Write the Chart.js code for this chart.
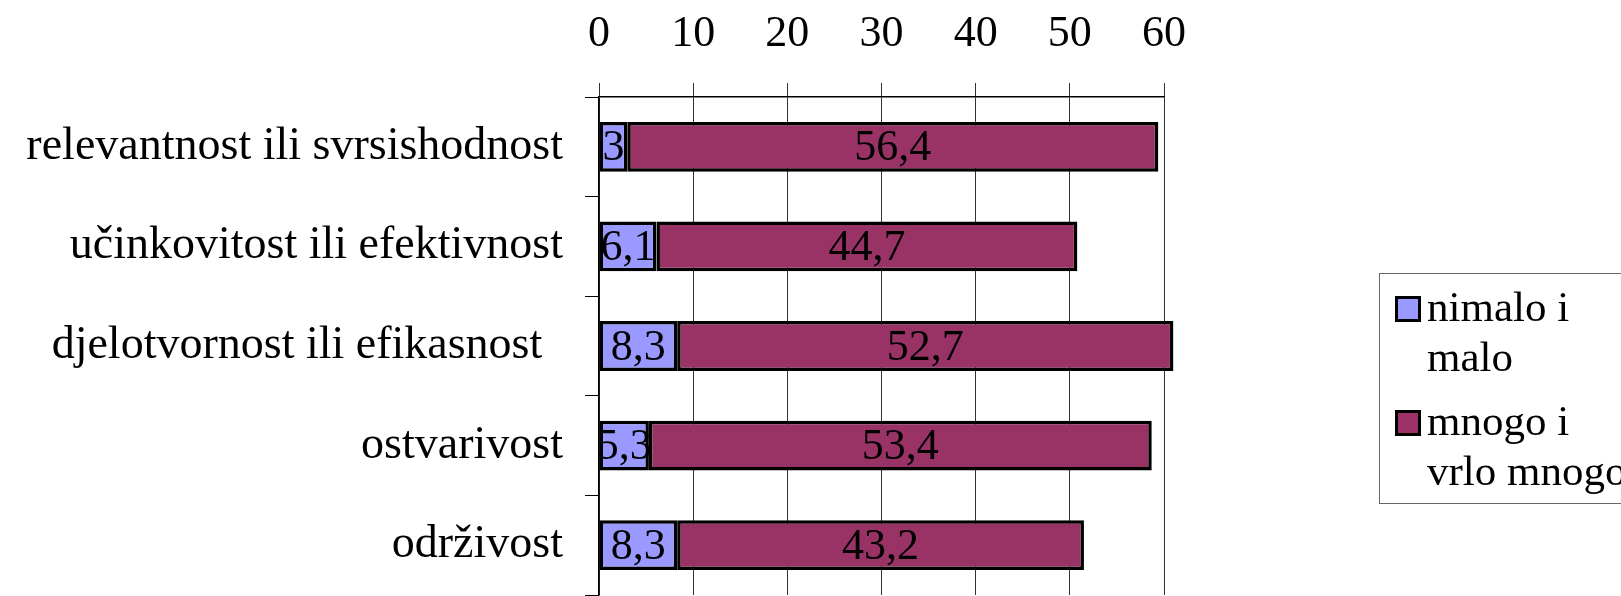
<!DOCTYPE html>
<html>
<head>
<meta charset="utf-8">
<script src="https://cdn.jsdelivr.net/npm/chart.js@4.4.1/dist/chart.umd.min.js"></script>
<style>
    html, body { margin: 0; padding: 0; background: #fff; overflow: hidden; }
    #wrap { position: relative; width: 1621px; height: 596px; }
    #legend {
        position: absolute; left: 1379px; top: 273px; width: 300px; height: 231px;
        border: 1.5px solid #666; box-sizing: border-box;
        font-family: "Liberation Serif", "Times New Roman", serif; font-size: 43px; line-height: 50px;
        color: #000;
    }
    .item { position: relative; padding-left: 47px; }
    .item.first { margin-top: 8px; }
    .item.second { margin-top: 14px; }
    .sw { position: absolute; left: 15px; top: 14px; width: 20px; height: 20px; border: 3px solid #000; }
</style>
</head>
<body>
<div id="wrap">
    <canvas id="chart" width="1621" height="596"></canvas>
    <div id="legend">
        <div class="item first"><span class="sw" style="background:#9999FF"></span>nimalo i<br>malo</div>
        <div class="item second"><span class="sw" style="background:#993366"></span>mnogo i<br>vrlo mnogo</div>
    </div>
</div>
<script>
const categories = [
    "relevantnost ili svrsishodnost",
    "učinkovitost ili efektivnost",
    "djelotvornost ili efikasnost \u2009",
    "ostvarivost",
    "održivost"
];
const seriesNames = ["nimalo i malo", "mnogo i vrlo mnogo"];
const nimaloIMalo = [3, 6.1, 8.3, 5.3, 8.3];
const mnogoIVrloMnogo = [56.4, 44.7, 52.7, 53.4, 43.2];
const xTicks = [0, 10, 20, 30, 40, 50, 60];

const serif = "'Liberation Serif', 'Times New Roman', serif";

// vrijednosti u sredini segmenta
const valueLabels = {
    id: "valueLabels",
    afterDatasetsDraw(chart) {
        const ctx = chart.ctx;
        ctx.save();
        ctx.font = "44px " + serif;
        ctx.fillStyle = "#000";
        ctx.textAlign = "center";
        ctx.textBaseline = "middle";
        chart.data.datasets.forEach((ds, i) => {
            chart.getDatasetMeta(i).data.forEach((bar, j) => {
                const p = bar.getProps(["x", "y", "base"], true);
                const txt = String(ds.data[j]).replace(".", ",");
                ctx.fillText(txt, (p.x + p.base) / 2, p.y + 2);
            });
        });
        ctx.restore();
    }
};

new Chart(document.getElementById("chart"), {
    type: "bar",
    data: {
        labels: categories,
        datasets: [
            {
                label: seriesNames[0],
                data: nimaloIMalo,
                backgroundColor: "#9999FF",
                borderColor: "#000",
                borderWidth: 3.5,
                borderSkipped: false,
                categoryPercentage: 1,
                barPercentage: 0.5,
                clip: false
            },
            {
                label: seriesNames[1],
                data: mnogoIVrloMnogo,
                backgroundColor: "#993366",
                borderColor: "#000",
                borderWidth: 3.5,
                borderSkipped: false,
                categoryPercentage: 1,
                barPercentage: 0.5,
                clip: false
            }
        ]
    },
    options: {
        indexAxis: "y",
        responsive: false,
        animation: false,
        devicePixelRatio: 1,
        layout: { padding: { left: 0, right: 457, top: 0, bottom: 1 } },
        plugins: {
            legend: { display: false },
            tooltip: { enabled: false }
        },
        scales: {
            x: {
                position: "top",
                stacked: true,
                min: 0,
                max: 60,
                afterBuildTicks: (s) => { s.ticks = xTicks.map(v => ({ value: v })); },
                afterFit: (s) => { s.height = 97; s.paddingLeft = 0; s.paddingRight = 0; },
                ticks: {
                    font: { family: serif, size: 44 },
                    color: "#000",
                    padding: 22,
                    maxRotation: 0
                },
                grid: { color: "#333", lineWidth: 1, tickLength: 14 },
                border: { color: "#000", width: 1.5 }
            },
            y: {
                stacked: true,
                afterFit: (s) => { s.width = 599; s.paddingTop = 0; s.paddingBottom = 0; },
                ticks: {
                    font: { family: serif, size: 46 },
                    color: "#000",
                    padding: 22
                },
                grid: { drawOnChartArea: false, color: "#000", tickLength: 14, offset: true },
                border: { color: "#000", width: 1.5 }
            }
        }
    },
    plugins: [valueLabels]
});
</script>
</body>
</html>
